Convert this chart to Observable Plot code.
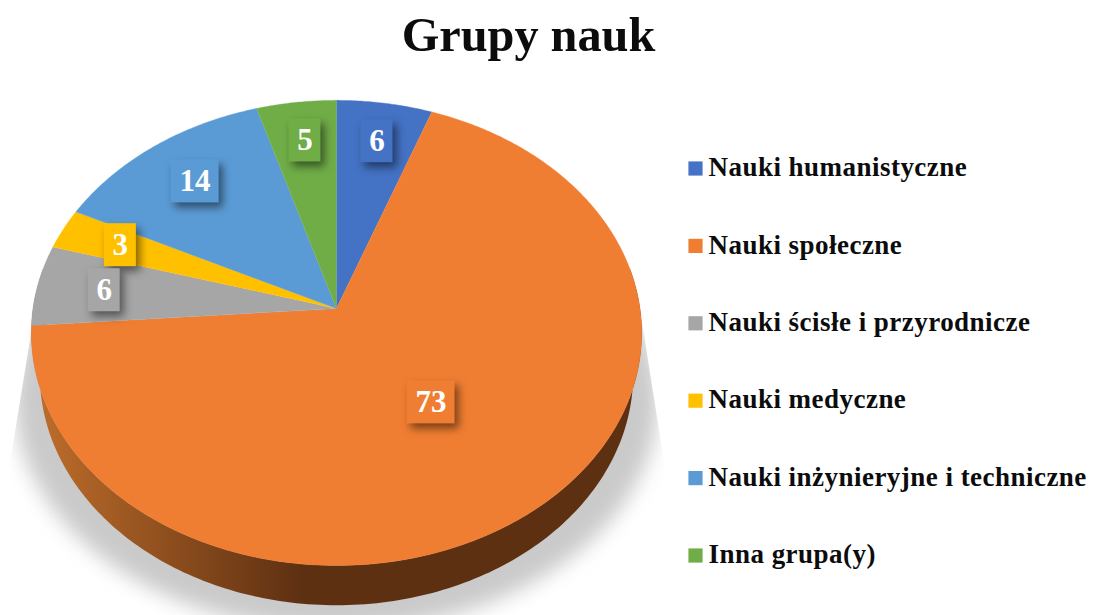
<!DOCTYPE html>
<html><head><meta charset="utf-8">
<style>html,body{margin:0;padding:0;background:#fff}svg{display:block}</style>
<script src="https://cdn.jsdelivr.net/npm/d3@7"></script>
<script src="https://cdn.jsdelivr.net/npm/@observablehq/plot@0.6"></script>
</head><body>
<script>
const chartTitle = "Grupy nauk";
const categories = ["Nauki humanistyczne","Nauki społeczne","Nauki ścisłe i przyrodnicze","Nauki medyczne","Nauki inżynieryjne i techniczne","Inna grupa(y)"];
const values = [6,73,6,3,14,5];
const colors = ["#4472c4","#f07e32","#a6a6a6","#ffc000","#5b9bd5","#70ad47"];
const labelRadius = [0.8,0.49,0.78,0.79,0.77,0.8];

const W = 1093, H = 615;
const top0 = {cx:336, cy:308, rx:303.5, ry:230};
const low0 = {cx:336, cy:350, rx:295, ry:228};
const shade0 = {cx:336, cy:375, rx:320, ry:228};
const k = 0.105;
const rad = d => d*Math.PI/180;
function proj(e, deg, r=1){
  const u = r*Math.sin(rad(deg)), v = r*Math.cos(rad(deg)), w = 1+k*v;
  return {x:e.cx+e.rx*u/w, y:e.cy-e.ry*v/w};
}
const total = d3.sum(values);
let acc = 0;
const slices = values.map((v,i)=>{const a0=acc/total*360; acc+=v; return {name:categories[i],value:v,a0,a1:acc/total*360};});

const sliceRows = slices.flatMap(s=>{
  const pts=[{name:s.name,...proj(top0,0,0)}];
  for(let a=s.a0;a<s.a1;a+=0.5) pts.push({name:s.name,...proj(top0,a)});
  pts.push({name:s.name,...proj(top0,s.a1)});
  return pts;
});
const sideRows = [...d3.range(80,280.5,1).map(a=>proj(low0,a)), ...d3.range(280,79.5,-1).map(a=>proj(top0,a))];
const shadeRows = d3.range(0,361,2).map(a=>proj(shade0,a));
const labels = slices.map((s,i)=>{
  const p = proj(top0,(s.a0+s.a1)/2,labelRadius[i]);
  const cx = p.x+1.2;
  const t = String(s.value), w = 16*t.length+16;
  return {name:s.name,text:t,x:cx,y:p.y,x1:cx-w/2,x2:cx+w/2,y1:p.y-21.5,y2:p.y+21.5};
});
const legendRows = categories.map((name,i)=>({name,y:168+i*77.4}));

const defs = () => {
  const svgNS="http://www.w3.org/2000/svg";
  const d=document.createElementNS(svgNS,"defs");
  d.innerHTML=`<linearGradient id="sideGrad" gradientUnits="userSpaceOnUse" x1="30" x2="300" y1="0" y2="0">
    <stop offset="0" stop-color="#c06f2b"/><stop offset="0.5" stop-color="#8f4f1e"/><stop offset="1" stop-color="#5e3012"/></linearGradient>
    <clipPath id="shadeClip"><polygon points="641,318 664,465 664,615 9,615 9,465 31,330"/></clipPath>`;
  return d;
};
const withStyle = (fn) => (index,scales,values,dims,ctx,next)=>{const g=next(index,scales,values,dims,ctx); fn(g); return g;};

const plot = Plot.plot({
  width:W, height:H, margin:0,
  x:{domain:[0,W],range:[0,W],axis:null},
  y:{domain:[0,H],range:[0,H],axis:null},
  color:{domain:categories,range:colors},
  style:{background:"#fff",fontFamily:"'Liberation Serif',serif"},
  marks:[
    defs,
    Plot.line(shadeRows,{x:"x",y:"y",fill:"#cacaca",stroke:"none",imageFilter:"blur(10px)",
      render:withStyle(g=>g.setAttribute("clip-path","url(#shadeClip)"))}),
    Plot.line(sideRows,{x:"x",y:"y",fill:"url(#sideGrad)",stroke:"none"}),
    Plot.line(sliceRows,{x:"x",y:"y",z:"name",fill:"name",stroke:"name",strokeWidth:0.4}),
    Plot.rect(labels,{x1:"x1",x2:"x2",y1:"y1",y2:"y2",fill:"name",imageFilter:"drop-shadow(4px 5px 4px rgba(0,0,0,.5))"}),
    Plot.text(labels,{x:"x",y:"y",text:"text",fill:"#fff",fontSize:31,fontWeight:"bold"}),
    Plot.dot(legendRows,{x:()=>695,y:"y",symbol:"square",r:8,fill:"name"}),
    Plot.text(legendRows,{x:()=>708,y:"y",dy:-1,text:"name",textAnchor:"start",fontSize:27,fontWeight:"bold",fill:"#0c0c0c",
      render:withStyle(g=>g.style.letterSpacing="0.47px")}),
    Plot.text([chartTitle],{x:()=>528,y:()=>35,text:d=>d,fontSize:48.3,fontWeight:"bold",fill:"#0c0c0c"})
  ]
});
document.body.appendChild(plot);
</script>
</body></html>
